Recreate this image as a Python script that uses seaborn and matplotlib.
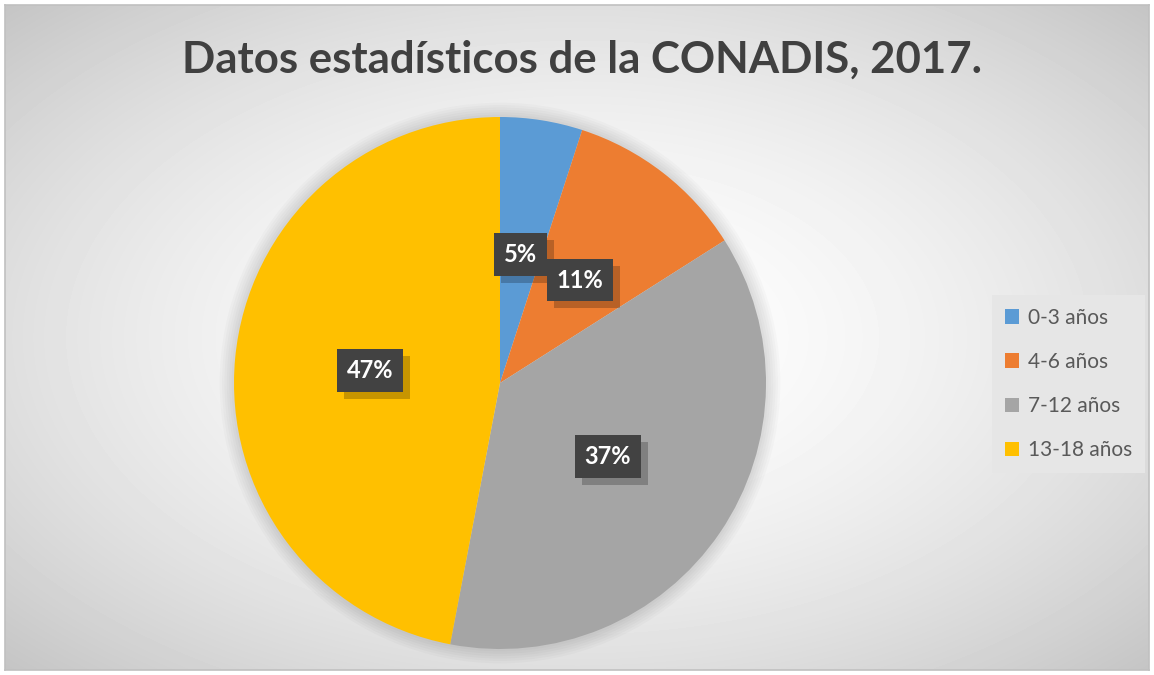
import numpy as np
import matplotlib.pyplot as plt
import matplotlib.patheffects as pe
from matplotlib.patches import Patch, Circle
import seaborn as sns

# data
grupos = ["0-3 años", "4-6 años", "7-12 años", "13-18 años"]
porcentajes = [5, 11, 37, 47]
colores = ["#5B9BD5", "#ED7D31", "#A5A5A5", "#FFC000"]
titulo = "Datos estadísticos de la CONADIS, 2017."

sns.set_style('white')
plt.rcParams['font.family'] = ['Lato', 'DejaVu Sans']

W, H = 1154, 675
fig = plt.figure(figsize=(W / 100, H / 100), dpi=100)

# fondo con degradado radial
bg = fig.add_axes([5 / W, 5 / H, 1144 / W, 665 / H], zorder=0)
yy, xx = np.mgrid[0:665, 0:1144]
dx = (xx - 572) / 572.0
dy = (yy - 332) / 332.0
r = np.sqrt(dx ** 2 + dy ** 2) / np.sqrt(2)
gris = 1 - 0.23 * r ** 1.7
bg.imshow(gris, cmap='gray', vmin=0, vmax=1, aspect='auto')
bg.set_xticks([])
bg.set_yticks([])
for s in bg.spines.values():
    s.set_color('#c0c0c0')
    s.set_linewidth(1.2)

# pastel
R = 266
lim = 1.2
cx, cy = 500 / W, 1 - 383 / H
aw, ah = 2 * R * lim / W, 2 * R * lim / H
ax = fig.add_axes([cx - aw / 2, cy - ah / 2, aw, ah], zorder=1)
ax.patch.set_alpha(0)

# sombra suave alrededor del pastel
for i in range(6):
    ax.add_patch(Circle((0, 0), 1 + 0.009 * (i + 1), color='black', alpha=0.018, lw=0, zorder=0))

wedges, texts, autotexts = ax.pie(
    porcentajes, colors=sns.color_palette(colores), startangle=90, counterclock=False,
    autopct='%1.0f%%', pctdistance=0.49, wedgeprops=dict(linewidth=0),
    textprops=dict(color='white', fontsize=17, fontweight='bold'))
for w in wedges:
    w.set_zorder(2)
for t in autotexts:
    t.set_zorder(5)
    t.set_bbox(dict(boxstyle='square,pad=0.42', facecolor='#424242', edgecolor='none', linewidth=0))
    t.get_bbox_patch().set_path_effects([
        pe.SimplePatchShadow(offset=(5, -5), shadow_rgbFace='black', alpha=0.22),
        pe.Normal()])
ax.set_xlim(-lim, lim)
ax.set_ylim(-lim, lim)
ax.set_aspect('equal')
ax.axis('off')

fig.text(582 / W, 1 - 73 / H, titulo, ha='center', va='baseline',
         fontsize=31.5, fontweight='bold', color='#404040', zorder=3)

handles = [Patch(facecolor=c, edgecolor='none') for c in colores]
leg = fig.legend(handles, grupos, loc='center left', bbox_to_anchor=(992 / W, 1 - 384 / H),
                 fontsize=15, frameon=True, fancybox=False, facecolor='#e6e6e6',
                 edgecolor='none', framealpha=1, labelspacing=1.16, handlelength=0.7,
                 handleheight=0.7, handletextpad=0.45, borderpad=0.6, borderaxespad=0,
                 labelcolor='#595959')
leg.set_zorder(4)

plt.savefig("out.png", dpi=100)
